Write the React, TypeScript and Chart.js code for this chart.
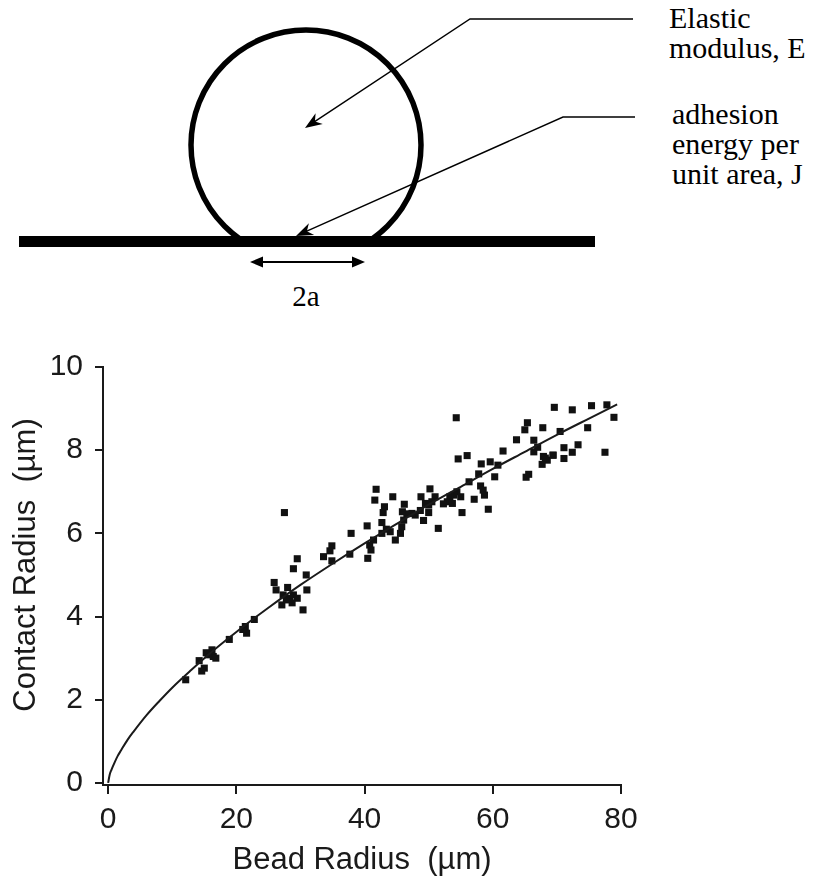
import React, { useEffect, useRef } from "react";
import { Chart, registerables } from "chart.js";

Chart.register(...registerables);

// Measured bead radius (µm) vs contact radius (µm)
const beadRadius = [
  70.1, 69.6, 72.4, 75.4, 77.8, 78.9, 74.8, 77.5, 73.3, 71.1,
  72.4, 71.1, 69.4, 67.9, 68.5, 67.7, 66.4, 66.4, 67.0, 70.5,
  67.8, 65.0, 65.4, 63.7, 61.6, 65.6, 65.2, 60.3, 60.8, 59.6,
  58.2, 57.8, 56.0, 54.6, 54.3, 58.1, 58.5, 58.7, 59.3, 56.3,
  57.1, 55.2, 54.4, 53.9, 53.3, 52.9, 52.3, 53.7, 55.0, 50.2,
  51.0, 50.5, 50.0, 49.5, 48.8, 48.7, 50.0, 49.2, 51.5, 47.9,
  47.4, 46.6, 46.2, 45.9, 44.4, 41.8, 41.6, 43.1, 42.9, 42.7,
  46.1, 45.8, 45.6, 44.8, 44.0, 43.4, 42.7, 40.4, 37.9, 41.4,
  40.8, 41.0, 40.5, 37.7, 34.9, 34.6, 33.6, 34.9, 30.9, 31.0,
  29.5, 27.5, 28.9, 30.4, 25.9, 26.2, 27.3, 28.0, 28.3, 28.9,
  29.5, 27.1, 28.7, 27.8, 22.8, 21.4, 21.6, 21.0, 18.9, 16.2,
  16.4, 15.6, 16.8, 15.3, 14.2, 15.0, 14.6, 12.1, 68.2, 69.4,
];
const contactRadius = [
  10.13, 9.03, 8.97, 9.07, 9.09, 8.79, 8.54, 7.95, 8.13, 8.06,
  7.95, 7.80, 7.88, 7.85, 7.76, 7.66, 7.96, 8.24, 8.07, 8.45,
  8.54, 8.49, 8.66, 8.25, 7.98, 7.42, 7.35, 7.36, 7.64, 7.72,
  7.67, 7.43, 7.87, 7.79, 8.78, 7.14, 7.04, 6.92, 6.58, 7.24,
  6.82, 6.50, 7.00, 6.92, 6.88, 6.76, 6.71, 6.72, 6.88, 7.07,
  6.88, 6.76, 6.68, 6.72, 6.88, 6.55, 6.50, 6.31, 6.12, 6.44,
  6.48, 6.47, 6.70, 6.52, 6.88, 7.06, 6.80, 6.64, 6.50, 6.26,
  6.32, 6.16, 6.00, 5.84, 6.04, 6.10, 6.00, 6.18, 6.00, 5.84,
  5.72, 5.60, 5.40, 5.50, 5.70, 5.58, 5.44, 5.34, 5.00, 4.64,
  5.39, 6.50, 5.15, 4.16, 4.82, 4.64, 4.52, 4.70, 4.44, 4.52,
  4.44, 4.28, 4.33, 4.40, 3.93, 3.76, 3.60, 3.69, 3.45, 3.20,
  3.04, 3.08, 3.00, 3.13, 2.94, 2.76, 2.69, 2.48, 7.81, 7.88,
];

// Fitted curve
const fitX = [0, 0.25, 0.5, 1, 1.5, 2, 3, 4, 6, 8, 10, 13, 16, 20, 25, 30, 35, 40, 45, 50, 55, 60, 65, 70, 75, 79.4];
const fitY = [0, 0.2, 0.31, 0.49, 0.65, 0.78, 1.03, 1.24, 1.63, 1.97, 2.29, 2.72, 3.13, 3.63, 4.21, 4.76, 5.27, 5.76, 6.23, 6.69, 7.12, 7.55, 7.96, 8.37, 8.76, 9.1];

const xTicks = [0, 20, 40, 60, 80];
const yTicks = [0, 2, 4, 6, 8, 10];

const xTitle = "Bead Radius  (\u00b5m)";
const yTitle = "Contact Radius  (\u00b5m)";

const INK = "#1a1a1a";
const SANS = "'Liberation Sans', Arial, Helvetica, sans-serif";
const SERIF = "'Liberation Serif', 'Times New Roman', Times, serif";

function arrowHead(tx: number, ty: number, fx: number, fy: number, L: number, W: number, notch: number) {
  const dx = tx - fx;
  const dy = ty - fy;
  const len = Math.hypot(dx, dy);
  const ux = dx / len;
  const uy = dy / len;
  const nx = -uy;
  const ny = ux;
  const bx = tx - L * ux;
  const by = ty - L * uy;
  const mx = tx - notch * L * ux;
  const my = ty - notch * L * uy;
  return `${tx},${ty} ${bx + W * nx},${by + W * ny} ${mx},${my} ${bx - W * nx},${by - W * ny}`;
}

// Draws the rotated y-axis title, a little above the plot's centre as in the figure
const yTitlePlugin = {
  id: "yTitleShifted",
  afterDraw(chart: any) {
    const { ctx, chartArea } = chart;
    ctx.save();
    ctx.translate(26, (chartArea.top + chartArea.bottom) / 2 - 11);
    ctx.rotate(-Math.PI / 2);
    ctx.font = `31px ${SANS}`;
    ctx.fillStyle = INK;
    ctx.textAlign = "center";
    ctx.textBaseline = "middle";
    ctx.fillText(yTitle, 0, 0);
    ctx.restore();
  },
};

export default function App() {
  const ref = useRef<HTMLCanvasElement>(null);

  useEffect(() => {
    document.body.style.margin = "0";
    const canvas = ref.current;
    if (!canvas) return;
    const chart = new Chart(canvas, {
      type: "scatter",
      data: {
        datasets: [
          {
            type: "line",
            label: "fit",
            data: fitX.map((x, i) => ({ x, y: fitY[i] })),
            borderColor: INK,
            borderWidth: 2,
            pointRadius: 0,
            showLine: true,
            fill: false,
            cubicInterpolationMode: "monotone",
          } as any,
          {
            label: "data",
            data: beadRadius.map((x, i) => ({ x, y: contactRadius[i] })),
            pointStyle: "rect",
            pointRadius: 5,
            pointBorderWidth: 0,
            backgroundColor: "#111",
            borderColor: "#111",
          },
        ],
      },
      options: {
        animation: false,
        responsive: false,
        maintainAspectRatio: false,
        devicePixelRatio: 1,
        layout: { padding: { left: 0, right: 196, top: 67, bottom: 0 } },
        plugins: { legend: { display: false }, tooltip: { enabled: false } },
        scales: {
          x: {
            type: "linear",
            min: -0.8,
            max: 80,
            afterBuildTicks: (axis: any) => {
              axis.ticks = xTicks.map((v) => ({ value: v }));
            },
            afterFit: (axis: any) => {
              axis.height = 96;
            },
            grid: { display: true, drawOnChartArea: false, drawTicks: true, tickLength: 9, color: INK, lineWidth: 2 },
            border: { display: true, color: INK, width: 2 },
            ticks: { color: INK, padding: 8, font: { family: SANS, size: 30 }, maxRotation: 0 },
            title: { display: true, text: xTitle, color: INK, font: { family: SANS, size: 31 }, padding: { top: 0, bottom: 2 } },
          },
          y: {
            type: "linear",
            min: -0.05,
            max: 10,
            afterBuildTicks: (axis: any) => {
              axis.ticks = yTicks.map((v) => ({ value: v }));
            },
            afterFit: (axis: any) => {
              axis.width = 103;
            },
            grid: { display: true, drawOnChartArea: false, drawTicks: true, tickLength: 8, color: INK, lineWidth: 2 },
            border: { display: true, color: INK, width: 2 },
            ticks: { color: INK, padding: 12, font: { family: SANS, size: 30 } },
            title: { display: false, text: yTitle },
          },
        },
      },
      plugins: [yTitlePlugin],
    });
    return () => chart.destroy();
  }, []);

  const labelStyle = (left: number, top: number): React.CSSProperties => ({
    position: "absolute",
    left,
    top,
    fontFamily: SERIF,
    fontSize: 30,
    lineHeight: "30px",
    color: "#000",
    whiteSpace: "pre",
  });

  return (
    <div style={{ position: "relative", width: 817, height: 881, background: "#fff", overflow: "hidden" }}>
      <svg width={817} height={330} style={{ position: "absolute", left: 0, top: 0 }}>
        <defs>
          <clipPath id="above">
            <rect x={0} y={0} width={817} height={238} />
          </clipPath>
        </defs>
        <circle cx={306} cy={145} r={115} fill="none" stroke="#000" strokeWidth={5.5} clipPath="url(#above)" />
        <rect x={19} y={236} width={576} height={11} fill="#000" />
        {/* leader to centre: Elastic modulus */}
        <polyline points="633,19 470,19 312,123.4" fill="none" stroke="#000" strokeWidth={1.4} />
        <polygon points={arrowHead(305, 128, 470, 19, 17, 6.5, 0.7)} fill="#000" />
        {/* leader to contact: adhesion energy */}
        <polyline points="635,117 563,117 304,232.4" fill="none" stroke="#000" strokeWidth={1.4} />
        <polygon points={arrowHead(296, 236, 563, 117, 17, 6.5, 0.7)} fill="#000" />
        {/* 2a double arrow */}
        <line x1={260} y1={262} x2={355} y2={262} stroke="#000" strokeWidth={2} />
        <polygon points={arrowHead(250, 262, 365, 262, 13, 5.5, 1)} fill="#000" />
        <polygon points={arrowHead(365, 262, 250, 262, 13, 5.5, 1)} fill="#000" />
        <text x={306} y={306} textAnchor="middle" fontFamily={SERIF} fontSize={29} fill="#000">2a</text>
      </svg>
      <div style={labelStyle(669, 3)}>{"Elastic\nmodulus, E"}</div>
      <div style={labelStyle(672, 99)}>{"adhesion\nenergy per\nunit area, J"}</div>
      <canvas ref={ref} width={817} height={581} style={{ position: "absolute", left: 0, top: 300, width: 817, height: 581 }} />
    </div>
  );
}
